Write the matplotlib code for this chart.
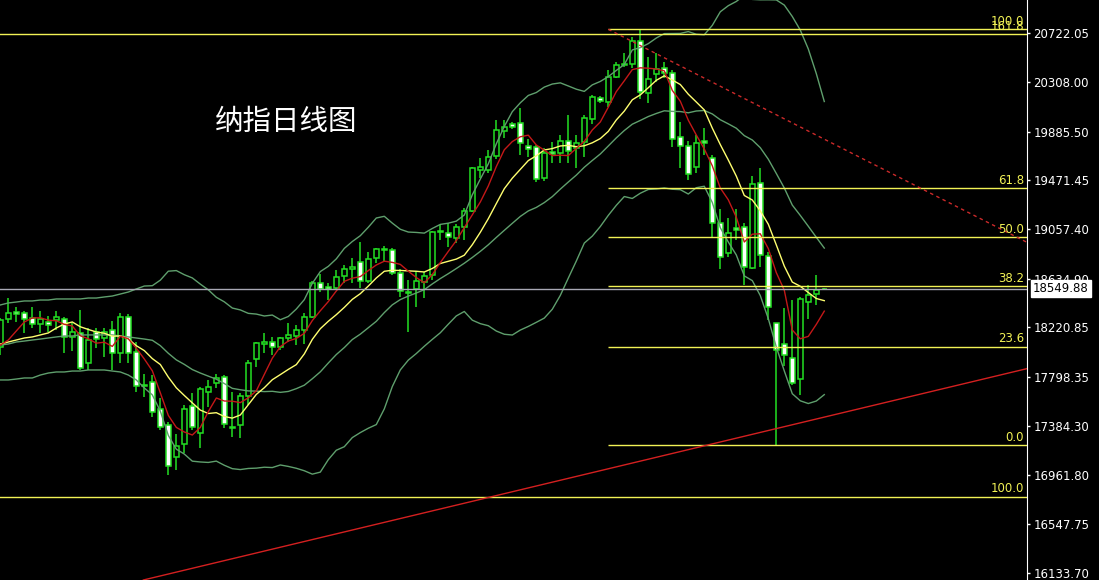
import numpy as np
import pandas as pd
import matplotlib
matplotlib.use('Agg')
import matplotlib.pyplot as plt
import matplotlib.transforms as mtransforms

## DAILY CANDLES (oldest first)
opens = [18053, 18292, 18351, 18343, 18300, 18249, 18266, 18283, 18292, 18139,
         18173, 17917, 18181, 18130, 18198, 18002, 18309, 18011, 17730, 17756,
         17526, 17390, 17118, 17228, 17552, 17322, 17671, 17747, 17798, 17373,
         17390, 17637, 17951, 18079, 18096, 18053, 18130, 18147, 18198, 18309,
         18598, 18564, 18555, 18657, 18717, 18776, 18615, 18810, 18887, 18879,
         18683, 18521, 18547, 18606, 18666, 19032, 19023, 18981, 19074, 19210,
         19559, 19559, 19678, 19891, 19950, 19959, 19763, 19755, 19491, 19712,
         19704, 19806, 19746, 19797, 19993, 20172, 20137, 20350, 20452, 20461,
         20656, 20214, 20376, 20427, 20384, 19840, 19763, 19585, 19806, 19661,
         19108, 18853, 19066, 19074, 18725, 19448, 18827, 18258, 18079, 17960,
         17781, 18436, 18504, 18545]
highs = [18300, 18470, 18394, 18360, 18394, 18360, 18317, 18360, 18309, 18258,
         18368, 18215, 18215, 18215, 18275, 18343, 18334, 18096, 17824, 17815,
         17620, 17415, 17313, 17560, 17662, 17713, 17773, 17824, 17815, 17671,
         17662, 17943, 18096, 18173, 18139, 18139, 18258, 18241, 18343, 18615,
         18674, 18598, 18708, 18751, 18810, 18946, 18862, 18896, 18913, 18896,
         18717, 18623, 18700, 18691, 19040, 19091, 19108, 19100, 19236, 19585,
         19661, 19729, 19984, 19984, 19967, 20086, 19823, 19772, 19746, 19797,
         19857, 20027, 19857, 20027, 20197, 20189, 20410, 20478, 20554, 20690,
         20756, 20520, 20554, 20478, 20410, 19967, 19806, 19857, 19916, 19687,
         19227, 19151, 19227, 19108, 19508, 19576, 18862, 18258, 18385, 18453,
         18479, 18581, 18666, 18555]
lows = [17985, 18258, 18266, 18173, 18215, 18173, 18181, 18198, 18002, 18019,
        17858, 17858, 18045, 17968, 17858, 17917, 17917, 17671, 17628, 17458,
        17347, 16965, 17007, 17152, 17347, 17194, 17543, 17705, 17364, 17288,
        17279, 17560, 17883, 18002, 17985, 18028, 18096, 18070, 18079, 18300,
        18521, 18453, 18547, 18598, 18598, 18555, 18598, 18768, 18776, 18666,
        18479, 18181, 18394, 18470, 18623, 18964, 18904, 18938, 18964, 19202,
        19491, 19533, 19653, 19831, 19908, 19687, 19670, 19457, 19465, 19619,
        19619, 19619, 19576, 19670, 19950, 20129, 20095, 20342, 20435, 20427,
        20163, 20129, 20307, 20342, 19755, 19576, 19474, 19533, 19687, 18989,
        18717, 18819, 18964, 18581, 18717, 18734, 18283, 17220, 17892, 17730,
        17645, 18292, 18411, 18538]
closes = [18283, 18343, 18334, 18292, 18249, 18292, 18241, 18309, 18139, 18181,
          17875, 18113, 18121, 18181, 18002, 18309, 18002, 17722, 17722, 17501,
          17373, 17041, 17211, 17526, 17373, 17696, 17713, 17790, 17398, 17364,
          17637, 17917, 18087, 18096, 18053, 18130, 18156, 18198, 18309, 18598,
          18547, 18547, 18649, 18717, 18734, 18615, 18802, 18887, 18879, 18683,
          18530, 18513, 18615, 18657, 19032, 19040, 18989, 19074, 19210, 19576,
          19585, 19670, 19899, 19925, 19925, 19789, 19738, 19482, 19704, 19695,
          19806, 19721, 19789, 20001, 20180, 20146, 20350, 20452, 20461, 20656,
          20222, 20333, 20418, 20384, 19823, 19763, 19525, 19789, 19789, 19108,
          18819, 19023, 19049, 18734, 19440, 18836, 18394, 18028, 17985, 17747,
          18462, 18496, 18538, 18549.88]

# indicator values on the first bars (window not full yet)
ma5_head = [18070, 18113, 18190, 18266]
ma10_head = [18079, 18096, 18113, 18130, 18139, 18156, 18173, 18215, 18249]
bb_up_head = [18411, 18428, 18436, 18445, 18445, 18453, 18453, 18462, 18462, 18462,
              18462, 18470, 18470, 18479, 18487, 18504, 18521, 18547, 18572]
bb_mid_head = [18070, 18079, 18096, 18104, 18113, 18121, 18130, 18139, 18147, 18147,
               18156, 18156, 18156, 18156, 18156, 18147, 18139, 18130, 18121]
bb_lo_head = [17773, 17773, 17781, 17790, 17790, 17815, 17832, 17841, 17841, 17849,
              17849, 17858, 17858, 17858, 17849, 17841, 17815, 17773, 17705]

## FIBONACCI
FIB_START = 76                          # bar where the retracement lines begin
fib_low = 17220
fib_high = 20756
fib_ratios = [0.0, 23.6, 38.2, 50.0, 61.8, 100.0]
ext_levels = [20716, 16780]             # full width lines
ext_labels = ['161.8', '100.0']

## TREND LINES
down_pts = [(76, 20756), (128.3, 18945)]   # red dashed
up_pts = [(20, 16106), (128, 17864)]       # red solid

LAST = 18549.88
ytick_vals = [20722.05, 20308.00, 19885.50, 19471.45, 19057.40, 18634.90,
              18220.85, 17798.35, 17384.30, 16961.80, 16547.75, 16133.70]

GREEN = '#22e022'
BAND = '#5f9f6d'
YEL = '#f2f255'

fig = plt.figure(figsize=(10.99, 5.8), dpi=100, facecolor='black')
ax = fig.add_axes([0, 0, 1027 / 1099, 1])
ax.set_facecolor('black')
ax.set_xlim(-0.04, 128.34)
ax.set_ylim(16071.5, 21005)

# indicators
c = pd.Series(closes, dtype=float)
ma5 = c.rolling(5).mean()
ma5.iloc[:len(ma5_head)] = ma5_head
ma10 = c.rolling(10).mean()
ma10.iloc[:len(ma10_head)] = ma10_head
mid = c.rolling(20).mean()
sd = c.rolling(20).std(ddof=0)
up = mid + 2 * sd
lo = mid - 2 * sd
mid.iloc[:len(bb_mid_head)] = bb_mid_head
up.iloc[:len(bb_up_head)] = bb_up_head
lo.iloc[:len(bb_lo_head)] = bb_lo_head

x = np.arange(len(closes))

# candles
o = np.array(opens, dtype=float)
cl = np.array(closes, dtype=float)
ax.vlines(x, lows, highs, color=GREEN, lw=1.1, zorder=2)
bottom = np.minimum(o, cl)
height = np.maximum(np.abs(cl - o), 6)
fills = ['white' if cc < oo else 'black' for oo, cc in zip(o, cl)]
ax.bar(x, height, 0.66, bottom=bottom, color=fills, edgecolor=GREEN, lw=1.1, zorder=3)

for s in (up, mid, lo):
    ax.plot(x, s, color=BAND, lw=1, zorder=4)
ax.plot(x, ma10, color='#ffff70', lw=1, zorder=4)
ax.plot(x, ma5, color='#c41818', lw=1, zorder=4)

# horizontal levels
xr = ax.get_xlim()[1]
ax.axhline(LAST, color='#a8a8b4', lw=1, zorder=5)
for r in fib_ratios:
    lvl = fib_low + r / 100 * (fib_high - fib_low)
    ax.hlines(lvl, FIB_START, xr, color=YEL, lw=1, zorder=5)
    ax.text(127.95, lvl + 12, '%.1f' % r, color=YEL, fontsize=8.5, ha='right', va='bottom', zorder=6)
for lvl, lab in zip(ext_levels, ext_labels):
    ax.axhline(lvl, color=YEL, lw=1, zorder=5)
    ax.text(127.95, lvl + 12, lab, color=YEL, fontsize=8.5, ha='right', va='bottom', zorder=6)

# trend lines
ax.plot([p[0] for p in down_pts], [p[1] for p in down_pts], color='#cc2a2a', lw=1,
        ls=(0, (2.5, 2.5)), zorder=5)
ax.axline(up_pts[0], up_pts[1], color='#d42020', lw=1, zorder=5)

ax.text(215 / 1027, 1 - 122 / 580, '纳指日线图', transform=ax.transAxes, color='white',
        fontsize=20.5, family=['Noto Sans CJK SC', 'DejaVu Sans'], ha='left', va='center')

# right price axis
for side in ('left', 'top', 'bottom'):
    ax.spines[side].set_visible(False)
ax.spines['right'].set_color('white')
ax.yaxis.tick_right()
ax.set_yticks(ytick_vals)
ax.set_yticklabels(['%.2f' % v for v in ytick_vals])
ax.tick_params(axis='y', colors='white', labelsize=8.5, length=2.5, pad=2, width=1)
ax.set_xticks([])

trans = mtransforms.blended_transform_factory(ax.transAxes, ax.transData)
ax.text(1.0058, LAST, '%.2f' % LAST, transform=trans, color='black', fontsize=8.5,
        ha='left', va='center', clip_on=False, zorder=10,
        bbox=dict(boxstyle='square,pad=0.2', fc='white', ec='white'))

fig.savefig('out.png', dpi=100, facecolor='black')
